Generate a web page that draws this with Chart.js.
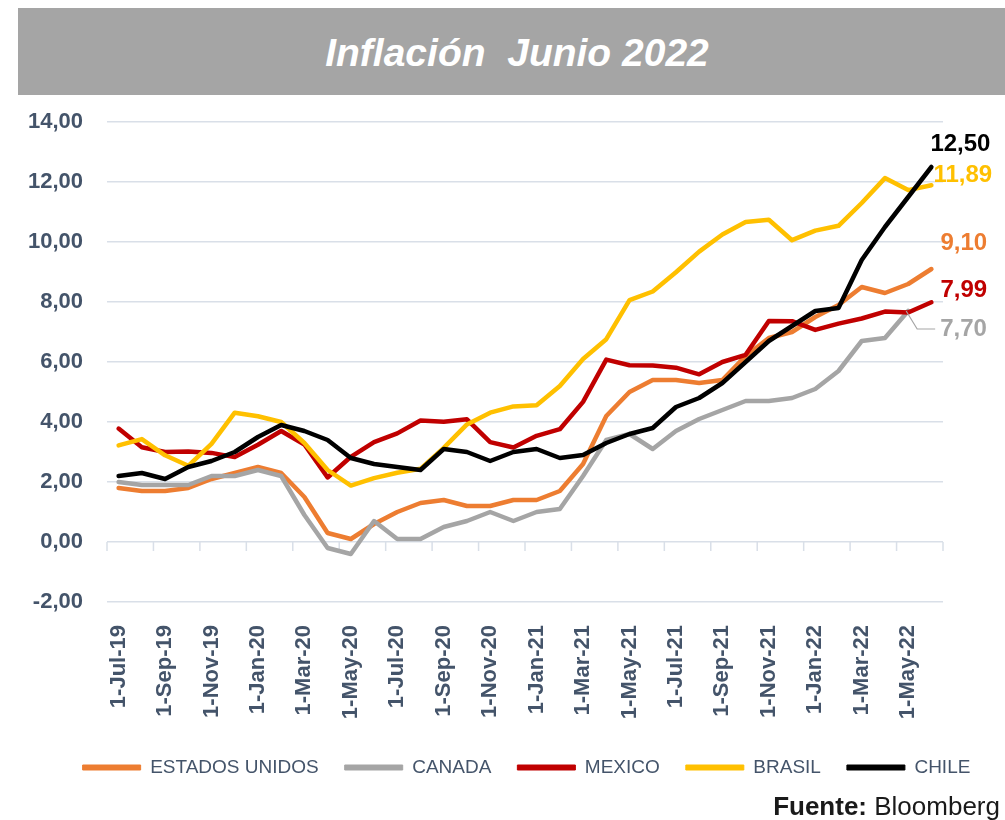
<!DOCTYPE html>
<html>
<head>
<meta charset="utf-8">
<script src="https://cdn.jsdelivr.net/npm/chart.js@4.4.1/dist/chart.umd.min.js"></script>
<style>
  html, body { margin: 0; padding: 0; background: #ffffff; }
  body { width: 1005px; height: 820px; position: relative; overflow: hidden; font-family: "Liberation Sans", Arial, sans-serif; }
  #titlebar { position: absolute; left: 18px; top: 8px; width: 987px; height: 87px; background: #A5A5A5;
    display: flex; align-items: center; justify-content: center; box-sizing: border-box; padding-left: 11px; padding-top: 2px; }
  #titlebar span { color: #ffffff; font-style: italic; font-weight: bold; font-size: 39px; font-family: "Liberation Sans", Arial, sans-serif; }
  #chart { position: absolute; left: 0; top: 0; }
  #source { position: absolute; right: 5px; top: 791px; font-size: 26px; color: #1a1a1a; font-family: "Liberation Sans", Arial, sans-serif; }
</style>
</head>
<body>
<canvas id="chart" width="1005" height="820"></canvas>
<div id="titlebar"><span>Inflación&nbsp; Junio 2022</span></div>
<div id="source"><b>Fuente:</b> Bloomberg</div>
<script>
// ---- Data ----
const categories = [
  '1-Jul-19','1-Aug-19','1-Sep-19','1-Oct-19','1-Nov-19','1-Dec-19',
  '1-Jan-20','1-Feb-20','1-Mar-20','1-Apr-20','1-May-20','1-Jun-20',
  '1-Jul-20','1-Aug-20','1-Sep-20','1-Oct-20','1-Nov-20','1-Dec-20',
  '1-Jan-21','1-Feb-21','1-Mar-21','1-Apr-21','1-May-21','1-Jun-21',
  '1-Jul-21','1-Aug-21','1-Sep-21','1-Oct-21','1-Nov-21','1-Dec-21',
  '1-Jan-22','1-Feb-22','1-Mar-22','1-Apr-22','1-May-22','1-Jun-22'
];
const estadosUnidos = [1.8,1.7,1.7,1.8,2.1,2.3,2.5,2.3,1.5,0.3,0.1,0.6,1.0,1.3,1.4,1.2,1.2,1.4,1.4,1.7,2.6,4.2,5.0,5.4,5.4,5.3,5.4,6.2,6.8,7.0,7.5,7.9,8.5,8.3,8.6,9.1];
const canada = [2.0,1.9,1.9,1.9,2.2,2.2,2.4,2.2,0.9,-0.2,-0.4,0.7,0.1,0.1,0.5,0.7,1.0,0.7,1.0,1.1,2.2,3.4,3.6,3.1,3.7,4.1,4.4,4.7,4.7,4.8,5.1,5.7,6.7,6.8,7.7,null];
const mexico = [3.78,3.16,3.00,3.02,2.97,2.83,3.24,3.70,3.25,2.15,2.84,3.33,3.62,4.05,4.01,4.09,3.33,3.15,3.54,3.76,4.67,6.08,5.89,5.88,5.81,5.59,6.00,6.24,7.37,7.36,7.07,7.28,7.45,7.68,7.65,7.99];
const brasil = [3.22,3.43,2.89,2.54,3.27,4.31,4.19,4.00,3.30,2.40,1.88,2.13,2.31,2.44,3.14,3.92,4.31,4.52,4.56,5.20,6.10,6.76,8.06,8.35,8.99,9.68,10.25,10.67,10.74,10.06,10.38,10.54,11.30,12.13,11.73,11.89];
const chile = [2.2,2.3,2.1,2.5,2.7,3.0,3.5,3.9,3.7,3.4,2.8,2.6,2.5,2.4,3.1,3.0,2.7,3.0,3.1,2.8,2.9,3.3,3.6,3.8,4.5,4.8,5.3,6.0,6.7,7.2,7.7,7.8,9.4,10.5,11.5,12.5];
const seriesNames = ['ESTADOS UNIDOS','CANADA','MEXICO','BRASIL','CHILE'];
const yTicks = [-2,0,2,4,6,8,10,12,14];

const colors = ['#ED7D31','#A5A5A5','#C00000','#FFC000','#000000'];
const seriesData = [estadosUnidos, canada, mexico, brasil, chile];
// label placement offsets (style only)
const labelOffsets = [
  {dx: 9, dy: -26},
  {dx: 32, dy: 18, leader: true},
  {dx: 9, dy: -12},
  {dx: 2, dy: -10},
  {dx: -1, dy: -23}
];

const fmt = v => v.toFixed(2).replace('.', ',');
const GRID = '#D9DFE8';
const TEXT = '#44546A';

const datasets = seriesNames.map((name, i) => ({
  label: name,
  data: seriesData[i],
  borderColor: colors[i],
  backgroundColor: colors[i],
  borderWidth: 4.5,
  pointRadius: 0,
  tension: 0,
  borderJoinStyle: 'round',
  borderCapStyle: 'round',
  spanGaps: false,
  order: 5 - i
}));

const zeroTicks = {
  id: 'zeroTicks',
  beforeDatasetsDraw(chart) {
    const xs = chart.scales.x, ys = chart.scales.y;
    const ctx = chart.ctx;
    const y0 = ys.getPixelForValue(0);
    const half = (xs.getPixelForValue(1) - xs.getPixelForValue(0)) / 2;
    ctx.save();
    ctx.strokeStyle = GRID;
    ctx.lineWidth = 1.5;
    ctx.beginPath();
    for (let i = 0; i <= categories.length; i += 2) {
      const x = xs.getPixelForValue(i) - half;
      ctx.moveTo(x, y0);
      ctx.lineTo(x, y0 + 9);
    }
    ctx.stroke();
    ctx.restore();
  }
};

// shift the legend so it is centred under the plot like the reference
const legendShift = {
  id: 'legendShift',
  afterLayout(chart) {
    if (chart.legend) {
      chart.legend.left += 55;
      chart.legend.right += 55;
    }
  }
};

const endLabels = {
  id: 'endLabels',
  afterDatasetsDraw(chart) {
    const ctx = chart.ctx;
    ctx.save();
    ctx.font = 'bold 24px "Liberation Sans", Arial, sans-serif';
    ctx.textBaseline = 'middle';
    ctx.textAlign = 'left';
    chart.data.datasets.forEach((ds, i) => {
      const meta = chart.getDatasetMeta(i);
      let idx = ds.data.length - 1;
      while (idx >= 0 && ds.data[idx] == null) idx--;
      const pt = meta.data[idx];
      const off = labelOffsets[i];
      const tx = pt.x + off.dx, ty = pt.y + off.dy;
      if (off.leader) {
        ctx.strokeStyle = '#A5A5A5';
        ctx.lineWidth = 1.2;
        ctx.beginPath();
        ctx.moveTo(pt.x - 2, pt.y);
        ctx.lineTo(pt.x + 9, ty);
        ctx.lineTo(tx - 5, ty);
        ctx.stroke();
      }
      ctx.fillStyle = colors[i];
      ctx.fillText(fmt(ds.data[idx]), tx, ty);
    });
    ctx.restore();
  }
};

Chart.defaults.font.family = '"Liberation Sans", Arial, sans-serif';

new Chart(document.getElementById('chart'), {
  type: 'line',
  data: { labels: categories, datasets },
  plugins: [zeroTicks, endLabels, legendShift],
  options: {
    responsive: false,
    animation: false,
    devicePixelRatio: 1,
    layout: { padding: { top: 122, left: 0, right: 62, bottom: 33 } },
    scales: {
      x: {
        type: 'category',
        offset: true,
        grid: { display: false, drawTicks: false },
        border: { display: false },
        afterFit(scale) { scale.height = 130; },
        ticks: {
          autoSkip: false,
          maxRotation: 90,
          minRotation: 90,
          padding: 23,
          color: TEXT,
          font: { size: 22, weight: 'bold' },
          callback(value, index) { return index % 2 === 0 ? categories[index] : ''; }
        }
      },
      y: {
        min: yTicks[0],
        max: yTicks[yTicks.length - 1],
        afterBuildTicks(scale) { scale.ticks = yTicks.map(v => ({ value: v })); },
        afterFit(scale) { scale.width = 107; },
        grid: { color: GRID, lineWidth: 1.5, drawTicks: false },
        border: { display: false },
        ticks: {
          padding: 24,
          color: TEXT,
          font: { size: 22, weight: 'bold' },
          callback(v) { return fmt(v); }
        }
      }
    },
    plugins: {
      title: { display: false },
      tooltip: { enabled: false },
      legend: {
        position: 'bottom',
        labels: {
          boxWidth: 58,
          boxHeight: 5,
          padding: 26,
          color: TEXT,
          font: { size: 19 },
          sort: (a, b) => a.datasetIndex - b.datasetIndex,
          generateLabels(chart) {
            return chart.data.datasets.map((ds, i) => ({
              text: ds.label,
              fillStyle: colors[i],
              strokeStyle: colors[i],
              lineWidth: 1,
              hidden: false,
              datasetIndex: i,
              fontColor: TEXT
            }));
          }
        }
      }
    }
  }
});
</script>
</body>
</html>
